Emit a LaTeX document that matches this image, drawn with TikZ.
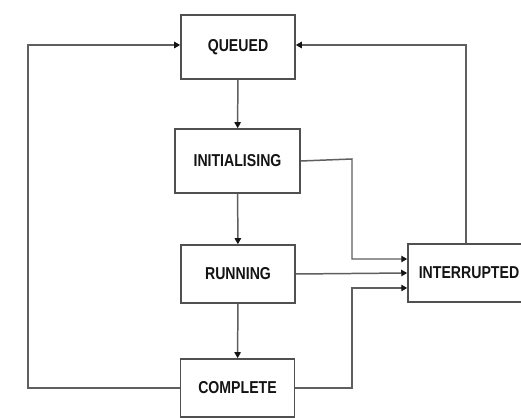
\documentclass[tikz,border=0pt]{standalone}
\usepackage{fontspec}
\setmainfont{Liberation Sans}[FakeStretch=0.82]
\usetikzlibrary{arrows.meta}

\definecolor{stateBorder}{RGB}{80,80,80}
\definecolor{stateLine}{RGB}{95,95,95}
\definecolor{stateText}{RGB}{20,20,20}
\definecolor{stateTip}{RGB}{20,20,20}

\begin{document}
\begin{tikzpicture}[x=.02cm,y=-.02cm,
      state/.style={draw=stateBorder, fill=white, line width=.9pt,
        font=\fontsize{9.8}{11}\selectfont\bfseries, text=stateText,
        inner sep=0pt, minimum width=2.28cm, minimum height=1.16cm},
      flow/.style={draw=stateLine, line width=.85pt,
        -{Triangle[length=3.4pt,width=3.6pt,color=stateTip]}}]
      \useasboundingbox (0,0) rectangle (521,418);
      \fill[white] (0,0) rectangle (521,418);

      \node[state, minimum height=1.28cm] (queued) at (238,47) {QUEUED};
      \node[state, minimum width=2.5cm, minimum height=1.28cm] (init) at (237.5,161) {INITIALISING};
      \node[state] (running) at (238,274) {RUNNING};
      \node[state] (complete) at (237.5,388) {COMPLETE};
      % right side runs off the page
      \node[state, minimum width=2.44cm] (interrupted) at (469,273) {INTERRUPTED};

      \draw[flow] (queued) -- (init);
      \draw[flow] (init) -- (running);
      \draw[flow] (running) -- (complete);

      % all three feed the interrupted state
      \draw[flow] (init.east) -- (352,159) |- ([yshift=.28cm]interrupted.west);
      \draw[flow] (running.east) -- (interrupted.west);
      \draw[flow] (complete.east) -- (352,388) |- ([yshift=-.30cm]interrupted.west);

      % back to the queue
      \draw[flow] (complete.west) -- (28,388) |- ([yshift=.04cm]queued.west);
      \draw[flow] ([xshift=-.06cm]interrupted.north) |- ([yshift=.04cm]queued.east);
    \end{tikzpicture}
\end{document}
